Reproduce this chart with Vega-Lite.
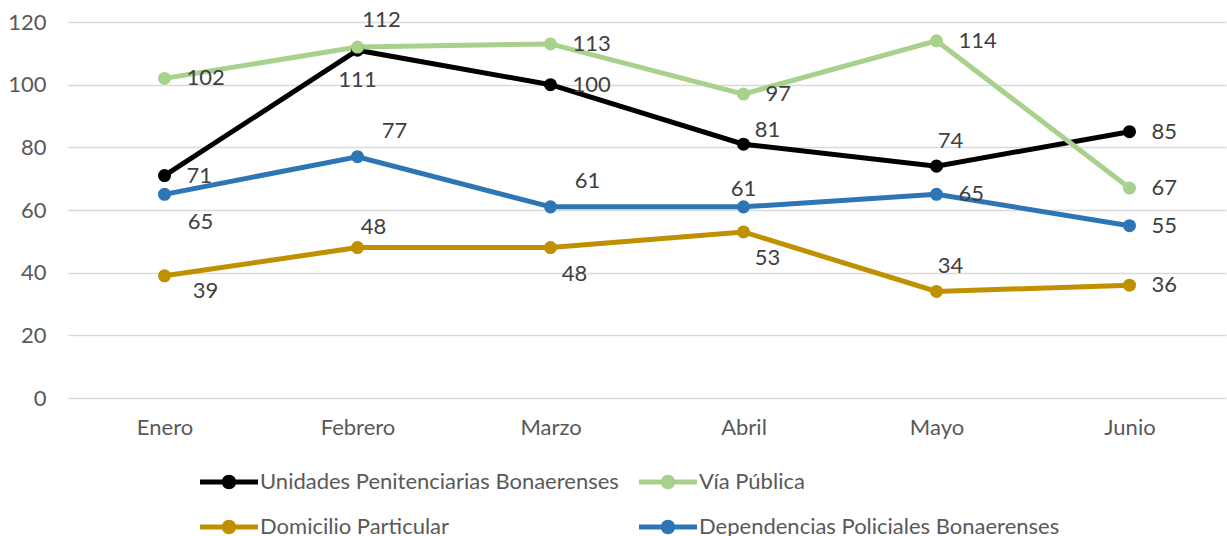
{
  "$schema": "https://vega.github.io/schema/vega-lite/v6.json",
  "width": 1158,
  "height": 376,
  "autosize": "none",
  "padding": {"left": 68, "top": 22, "right": 1, "bottom": 138},
  "config": {"font": "Lato", "view": {"stroke": null}},
  "data": {"values": [
    {"serie": "Unidades Penitenciarias Bonaerenses", "mes": "Enero", "valor": 71},
    {"serie": "Unidades Penitenciarias Bonaerenses", "mes": "Febrero", "valor": 111},
    {"serie": "Unidades Penitenciarias Bonaerenses", "mes": "Marzo", "valor": 100},
    {"serie": "Unidades Penitenciarias Bonaerenses", "mes": "Abril", "valor": 81},
    {"serie": "Unidades Penitenciarias Bonaerenses", "mes": "Mayo", "valor": 74},
    {"serie": "Unidades Penitenciarias Bonaerenses", "mes": "Junio", "valor": 85},
    {"serie": "Vía Pública", "mes": "Enero", "valor": 102},
    {"serie": "Vía Pública", "mes": "Febrero", "valor": 112},
    {"serie": "Vía Pública", "mes": "Marzo", "valor": 113},
    {"serie": "Vía Pública", "mes": "Abril", "valor": 97},
    {"serie": "Vía Pública", "mes": "Mayo", "valor": 114},
    {"serie": "Vía Pública", "mes": "Junio", "valor": 67},
    {"serie": "Domicilio Particular", "mes": "Enero", "valor": 39},
    {"serie": "Domicilio Particular", "mes": "Febrero", "valor": 48},
    {"serie": "Domicilio Particular", "mes": "Marzo", "valor": 48},
    {"serie": "Domicilio Particular", "mes": "Abril", "valor": 53},
    {"serie": "Domicilio Particular", "mes": "Mayo", "valor": 34},
    {"serie": "Domicilio Particular", "mes": "Junio", "valor": 36},
    {"serie": "Dependencias Policiales Bonaerenses", "mes": "Enero", "valor": 65},
    {"serie": "Dependencias Policiales Bonaerenses", "mes": "Febrero", "valor": 77},
    {"serie": "Dependencias Policiales Bonaerenses", "mes": "Marzo", "valor": 61},
    {"serie": "Dependencias Policiales Bonaerenses", "mes": "Abril", "valor": 61},
    {"serie": "Dependencias Policiales Bonaerenses", "mes": "Mayo", "valor": 65},
    {"serie": "Dependencias Policiales Bonaerenses", "mes": "Junio", "valor": 55}
  ]},
  "transform": [{"calculate": "datum.serie + '|' + datum.mes", "as": "clave"}],
  "encoding": {
    "x": {
      "field": "mes", "type": "ordinal",
      "sort": ["Enero", "Febrero", "Marzo", "Abril", "Mayo", "Junio"],
      "scale": {"type": "point", "padding": 0.5},
      "axis": {"title": null, "labelAngle": 0, "domain": false, "ticks": false, "labelPadding": 19, "labelFontSize": 22, "labelColor": "#595959", "grid": false}
    },
    "y": {
      "field": "valor", "type": "quantitative",
      "scale": {"domain": [0, 120], "nice": false},
      "axis": {"title": null, "values": [0, 20, 40, 60, 80, 100, 120], "domain": false, "ticks": false, "labelPadding": 22, "labelFontSize": 22, "labelColor": "#595959", "grid": true, "gridColor": "#D9D9D9", "gridWidth": 1.5}
    },
    "color": {
      "field": "serie", "type": "nominal",
      "scale": {
        "domain": ["Unidades Penitenciarias Bonaerenses", "Vía Pública", "Domicilio Particular", "Dependencias Policiales Bonaerenses"],
        "range": ["#000000", "#A9D18E", "#BF9000", "#2E75B6"]
      },
      "legend": {
        "orient": "none", "legendX": 132, "legendY": 431, "direction": "horizontal", "columns": 2, "title": null,
        "symbolType": "M-1,-0.09L1,-0.09L1,0.09L-1,0.09ZM-0.25,0A0.25,0.25,0,1,1,0.25,0A0.25,0.25,0,1,1,-0.25,0Z",
        "symbolSize": 3364, "symbolStrokeWidth": 0, "symbolOpacity": 1,
        "labelFontSize": 22, "labelColor": "#595959", "labelOffset": 2, "labelLimit": 0,
        "columnPadding": 20, "rowPadding": 5,
        "encode": {"symbols": {"update": {"fill": {"scale": "color", "field": "value"}, "stroke": {"value": "transparent"}, "opacity": {"value": 1}}}}
      }
    }
  },
  "layer": [
    {"mark": {"type": "line", "strokeWidth": 5}},
    {"mark": {"type": "point", "filled": true, "size": 170, "opacity": 1}},
    {
      "transform": [{"filter": "indexof(['Unidades Penitenciarias Bonaerenses|Mayo','Domicilio Particular|Mayo','Domicilio Particular|Febrero','Vía Pública|Febrero','Dependencias Policiales Bonaerenses|Febrero','Dependencias Policiales Bonaerenses|Marzo','Unidades Penitenciarias Bonaerenses|Abril','Dependencias Policiales Bonaerenses|Abril','Unidades Penitenciarias Bonaerenses|Febrero','Domicilio Particular|Marzo','Domicilio Particular|Abril','Dependencias Policiales Bonaerenses|Enero','Domicilio Particular|Enero'], datum.clave) < 0"}],
      "mark": {"type": "text", "align": "left", "baseline": "middle", "dx": 22, "fontSize": 22},
      "encoding": {"text": {"field": "valor"}, "color": {"value": "#404040"}}
    },
    {
      "transform": [{"filter": "indexof(['Unidades Penitenciarias Bonaerenses|Mayo','Domicilio Particular|Mayo'], datum.clave) >= 0"}],
      "mark": {"type": "text", "align": "center", "baseline": "middle", "dx": 14, "dy": -25, "fontSize": 22},
      "encoding": {"text": {"field": "valor"}, "color": {"value": "#404040"}}
    },
    {
      "transform": [{"filter": "indexof(['Domicilio Particular|Febrero'], datum.clave) >= 0"}],
      "mark": {"type": "text", "align": "center", "baseline": "middle", "dx": 16, "dy": -21, "fontSize": 22},
      "encoding": {"text": {"field": "valor"}, "color": {"value": "#404040"}}
    },
    {
      "transform": [{"filter": "indexof(['Vía Pública|Febrero'], datum.clave) >= 0"}],
      "mark": {"type": "text", "align": "center", "baseline": "middle", "dx": 24, "dy": -27, "fontSize": 22},
      "encoding": {"text": {"field": "valor"}, "color": {"value": "#404040"}}
    },
    {
      "transform": [{"filter": "indexof(['Dependencias Policiales Bonaerenses|Febrero','Dependencias Policiales Bonaerenses|Marzo'], datum.clave) >= 0"}],
      "mark": {"type": "text", "align": "center", "baseline": "middle", "dx": 37, "dy": -26, "fontSize": 22},
      "encoding": {"text": {"field": "valor"}, "color": {"value": "#404040"}}
    },
    {
      "transform": [{"filter": "indexof(['Unidades Penitenciarias Bonaerenses|Abril'], datum.clave) >= 0"}],
      "mark": {"type": "text", "align": "center", "baseline": "middle", "dx": 24, "dy": -14, "fontSize": 22},
      "encoding": {"text": {"field": "valor"}, "color": {"value": "#404040"}}
    },
    {
      "transform": [{"filter": "indexof(['Dependencias Policiales Bonaerenses|Abril'], datum.clave) >= 0"}],
      "mark": {"type": "text", "align": "center", "baseline": "middle", "dx": 0, "dy": -18, "fontSize": 22},
      "encoding": {"text": {"field": "valor"}, "color": {"value": "#404040"}}
    },
    {
      "transform": [{"filter": "indexof(['Unidades Penitenciarias Bonaerenses|Febrero'], datum.clave) >= 0"}],
      "mark": {"type": "text", "align": "center", "baseline": "middle", "dx": 0, "dy": 30, "fontSize": 22},
      "encoding": {"text": {"field": "valor"}, "color": {"value": "#404040"}}
    },
    {
      "transform": [{"filter": "indexof(['Domicilio Particular|Marzo','Domicilio Particular|Abril'], datum.clave) >= 0"}],
      "mark": {"type": "text", "align": "center", "baseline": "middle", "dx": 24, "dy": 26, "fontSize": 22},
      "encoding": {"text": {"field": "valor"}, "color": {"value": "#404040"}}
    },
    {
      "transform": [{"filter": "indexof(['Dependencias Policiales Bonaerenses|Enero'], datum.clave) >= 0"}],
      "mark": {"type": "text", "align": "center", "baseline": "middle", "dx": 36, "dy": 28, "fontSize": 22},
      "encoding": {"text": {"field": "valor"}, "color": {"value": "#404040"}}
    },
    {
      "transform": [{"filter": "indexof(['Domicilio Particular|Enero'], datum.clave) >= 0"}],
      "mark": {"type": "text", "align": "center", "baseline": "middle", "dx": 41, "dy": 15, "fontSize": 22},
      "encoding": {"text": {"field": "valor"}, "color": {"value": "#404040"}}
    }
  ]
}
